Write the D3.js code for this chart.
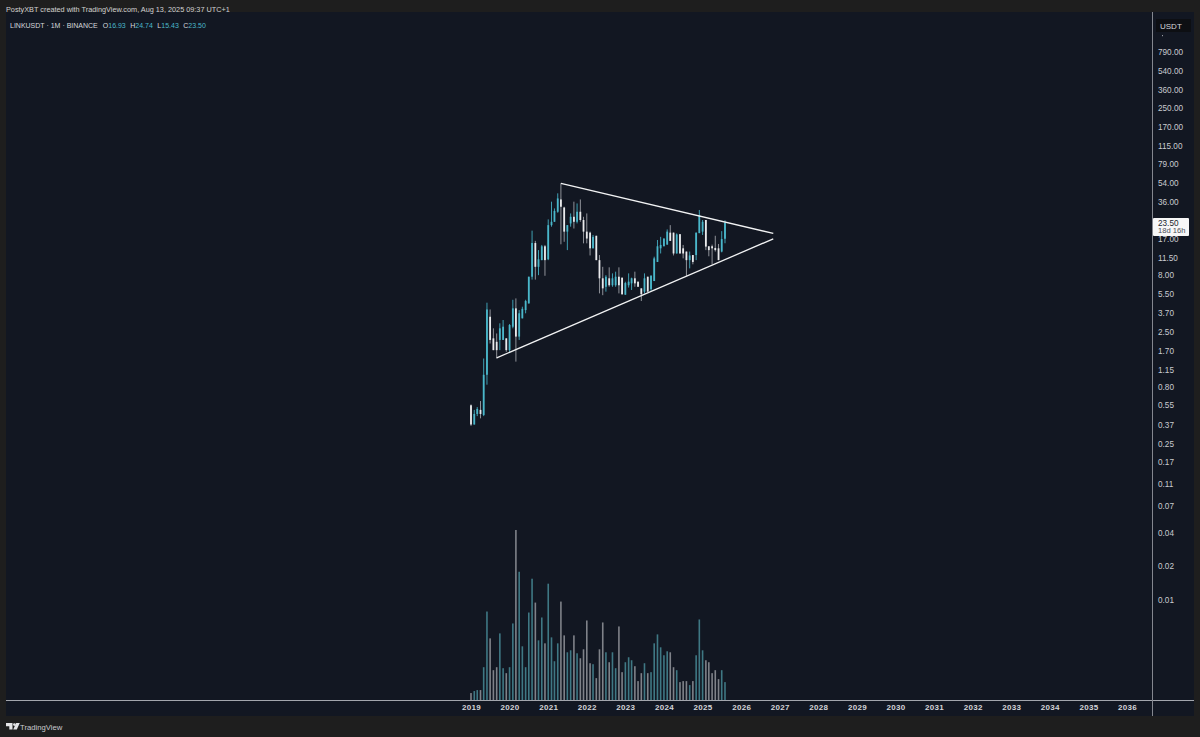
<!DOCTYPE html>
<html>
<head>
<meta charset="utf-8">
<script src="https://cdn.jsdelivr.net/npm/d3@7"></script>
<style>
  html, body { margin: 0; padding: 0; background: #1e1e1e; }
  svg { display: block; font-family: "Liberation Sans", Arial, sans-serif; }
</style>
</head>
<body>
<div id="chart"></div>
<script>
// monthly candles, Jan 2019 to Aug 2025
const opens = [0.55,0.37,0.46,0.50,0.45,1.03,3.40,2.18,2.03,2.11,2.11,2.18,1.71,2.77,4.04,2.26,3.29,3.90,4.47,7.75,15.5,9.5,10.9,14.5,11.1,22.4,24,29.5,38,32.2,19.6,23.2,26.6,24,29.5,24.9,19.6,19.2,13.9,18,10.9,7.5,6.3,7.5,6.5,6.5,7.75,7.6,5.35,6.5,6.76,7.5,7.0,6.1,5.7,7.75,6.0,7.09,10.5,13.9,14.5,15,19.2,19.2,12.5,18.6,13.9,13,10.9,12.1,12.1,19,19.6,24.9,14.5,14.5,14.0,13.9,13,16.93];
const highs = [0.56,0.50,0.53,0.60,1.44,4.54,3.95,2.68,2.41,2.97,3.18,2.18,2.93,4.82,4.96,3.90,4.18,4.82,7.75,20,16.2,13.4,14.9,14.9,25.2,36.3,31.6,43.1,52.9,32.7,22.4,28.5,36.3,35,38,26.6,28.5,19.6,18.3,18,12.1,9.5,8,9.4,8.3,8.6,9.4,7.6,6.99,8.3,7.6,8.6,7.0,6.1,8.3,7.75,8,11.7,16.5,17.6,17.05,20.5,22.4,19.2,18.9,18.6,14.9,13,13,12.1,19.2,30.6,24.9,24.9,14.5,15,18,15.2,19.8,24.74];
const lows = [0.36,0.37,0.44,0.42,0.44,0.84,1.96,1.71,1.44,1.71,2.11,1.65,1.65,2.68,1.35,2.11,3.29,3.65,4.47,7.3,7.3,8,10.9,7.9,10.9,21.7,24,28.9,15.1,15.9,13.4,21.7,20.9,23.2,24,15.4,15.4,12,13.9,10.9,5.5,5.3,5.7,6.3,6.3,6.3,5.5,5.35,5.35,6.2,5.9,6.3,6.3,4.7,5.5,5.7,5.8,7.09,10.5,12.5,14.5,15,16.2,12,12.5,12.5,11.3,7.85,9.2,10,10.9,19,18.3,13.4,11.8,10,13,10.9,12.8,15.43];
const closes = [0.37,0.46,0.51,0.46,1.03,3.95,2.11,1.71,1.71,2.68,2.77,1.71,2.87,4.04,2.26,3.65,4.0,4.7,7.75,15.5,9.5,11.1,14.5,10.9,22.4,24,30,38.8,32.7,19.6,22.4,26.6,24,29.5,24.9,19.6,17,13.9,17.6,10.9,7.5,6.1,7.75,6.5,7.5,7.75,6.5,5.4,6.8,7.0,7.5,6.76,6.3,5.4,7.5,5.7,7.9,11.3,14.5,14.9,17,19.6,16.2,12.5,18.5,12.5,12.5,10.9,12.0,10.5,19.2,27.5,24,14.4,13.4,13.9,13.4,10.9,16.8,23.5];
const volumes = [7,9,10,10,33,89,62,30,33,67,32,27,33,77,171,129,54,33,88,122,98,60,83,57,117,63,39,57,99,65,48,50,65,47,42,51,80,37,36,22,51,78,48,38,48,32,74,28,38,43,40,34,19,27,37,27,28,57,66,53,45,49,48,33,30,18,19,19,15,19,45,81,50,40,38,27,30,21,30,18];

const priceTicks = [790,540,360,250,170,115,79,54,36,17,11.5,8,5.5,3.7,2.5,1.7,1.15,0.8,0.55,0.37,0.25,0.17,0.11,0.07,0.04,0.02,0.01];
const yearTicks = d3.range(2019, 2037);

// triangle: start month, end month, start price, end price
const upperLine = [[new Date(Date.UTC(2021,4,1)), 52.9], [new Date(Date.UTC(2026,10,1)), 18.9]];
const lowerLine = [[new Date(Date.UTC(2019,8,1)), 1.46], [new Date(Date.UTC(2026,10,1)), 16.9]];

const width = 1200, height = 737;
const upColor = "#4ab7ca", downColor = "#e9eaec";
const upWick = "#3f9fb2", downWick = "#8f9299";

const months = d3.utcMonth.range(new Date(Date.UTC(2019,0,1)), new Date(Date.UTC(2025,8,1)));

const svg = d3.select("#chart").append("svg")
  .attr("width", width)
  .attr("height", height);

const scaleX = d3.scaleUtc()
  .domain([new Date(Date.UTC(2019,0,1)), new Date(Date.UTC(2036,0,1))])
  .range([471, 1127]);
const scaleY = d3.scaleLog()
  .domain([0.01, 790])
  .range([600, 52]);
const scaleVol = d3.scaleLinear()
  .domain([0, 171])
  .range([700, 530]);

svg.append("rect").attr("width", width).attr("height", height).attr("fill", "#1e1e1e");
svg.append("rect")
  .attr("x", 6).attr("y", 12).attr("width", 1188).attr("height", 704)
  .attr("fill", "#121722");

// volume
svg.append("g").selectAll("rect")
  .data(volumes)
  .join("rect")
  .attr("x", (d, i) => scaleX(months[i]) - 0.8)
  .attr("width", 1.6)
  .attr("y", d => scaleVol(d))
  .attr("height", d => scaleVol(0) - scaleVol(d))
  .attr("fill", (d, i) => closes[i] >= opens[i] ? "#3f7884" : "#7f8289");

// candles
const candles = svg.append("g").selectAll("g")
  .data(months)
  .join("g");
candles.append("line")
  .attr("x1", d => scaleX(d)).attr("x2", d => scaleX(d))
  .attr("y1", (d, i) => scaleY(highs[i]))
  .attr("y2", (d, i) => scaleY(lows[i]))
  .attr("stroke", (d, i) => closes[i] >= opens[i] ? upWick : downWick)
  .attr("stroke-width", 1);
candles.append("rect")
  .attr("x", d => scaleX(d) - 0.9)
  .attr("width", 1.8)
  .attr("y", (d, i) => scaleY(Math.max(opens[i], closes[i])))
  .attr("height", (d, i) => Math.abs(scaleY(opens[i]) - scaleY(closes[i])))
  .attr("fill", (d, i) => closes[i] >= opens[i] ? upColor : downColor);

// triangle
const lineGenerator = d3.line()
  .x(d => scaleX(d[0]))
  .y(d => scaleY(d[1]));
[upperLine, lowerLine].forEach(l => {
  svg.append("path")
    .attr("d", lineGenerator(l))
    .attr("fill", "none")
    .attr("stroke", "#f2f3f4")
    .attr("stroke-width", 1.3);
});

// frame lines
svg.append("line").attr("x1", 6).attr("x2", 1194).attr("y1", 700.5).attr("y2", 700.5)
  .attr("stroke", "#a3a6ad").attr("stroke-width", 1);
svg.append("line").attr("x1", 1152.5).attr("x2", 1152.5).attr("y1", 12).attr("y2", 716)
  .attr("stroke", "#84878f").attr("stroke-width", 1);

// price axis
const axisY = d3.axisRight(scaleY)
  .tickValues(priceTicks)
  .tickFormat(d3.format(".2f"))
  .tickSize(0)
  .tickPadding(0);
const gy = svg.append("g")
  .attr("transform", "translate(1158,0)")
  .call(axisY);
gy.select(".domain").remove();
gy.selectAll("text")
  .attr("fill", "#c9cbd0")
  .attr("font-size", 8.2)
  .attr("font-family", "'Liberation Sans', sans-serif");

// time axis
const axisX = d3.axisBottom(scaleX)
  .tickValues(yearTicks.map(y => new Date(Date.UTC(y,0,1))))
  .tickFormat(d3.utcFormat("%Y"))
  .tickSize(0)
  .tickPadding(0);
const gx = svg.append("g")
  .attr("transform", "translate(0,704)")
  .call(axisX);
gx.select(".domain").remove();
gx.selectAll("text")
  .attr("fill", "#d2d4d8")
  .attr("font-size", 8)
  .attr("font-weight", 700)
  .attr("letter-spacing", 0.3)
  .attr("font-family", "'Liberation Sans', sans-serif");

// header
svg.append("text").attr("x", 6).attr("y", 11.5)
  .attr("font-size", 7.3).attr("fill", "#d0d1d3")
  .text("PostyXBT created with TradingView.com, Aug 13, 2025 09:37 UTC+1");

const legend = svg.append("text").attr("x", 10).attr("y", 27.5)
  .attr("font-size", 7).attr("fill", "#d6d8dc");
legend.append("tspan").text("LINKUSDT · 1M · BINANCE");
[["O", "16.93"], ["H", "24.74"], ["L", "15.43"], ["C", "23.50"]].forEach((p, i) => {
  legend.append("tspan").attr("dx", i == 0 ? 5 : 4.5).text(p[0]);
  legend.append("tspan").attr("fill", upColor).text(p[1]);
});

// currency box
svg.append("rect").attr("x", 1156).attr("y", 19).attr("width", 35).attr("height", 13)
  .attr("fill", "#0d0f13");
svg.append("text").attr("x", 1160).attr("y", 28.5)
  .attr("font-size", 8).attr("fill", "#d6d8dc").text("USDT");
svg.append("rect").attr("x", 1162).attr("y", 35).attr("width", 1).attr("height", 1.2)
  .attr("fill", "#9a9da3");

// last price label
svg.append("rect").attr("x", 1153).attr("y", 218).attr("width", 36).attr("height", 18)
  .attr("fill", "#f7f7f7").attr("rx", 1);
svg.append("text").attr("x", 1158).attr("y", 225.5)
  .attr("font-size", 8.2).attr("fill", "#20242c").text("23.50");
svg.append("text").attr("x", 1158).attr("y", 233)
  .attr("font-size", 7.6).attr("fill", "#4a4e57").text("18d 16h");

// footer logo
svg.append("path")
  .attr("d", "M6 723h6.5v6.4h-3.2v-3.2H6z M13.2 729.4l3-6.4h3.6l-3 6.4z")
  .attr("fill", "#e4e5e7");
svg.append("circle").attr("cx", 14.4).attr("cy", 724.6).attr("r", 1.4).attr("fill", "#e4e5e7");
svg.append("text").attr("x", 20).attr("y", 730)
  .attr("font-size", 7.7).attr("fill", "#c9cbcf").text("TradingView");
</script>
</body>
</html>
